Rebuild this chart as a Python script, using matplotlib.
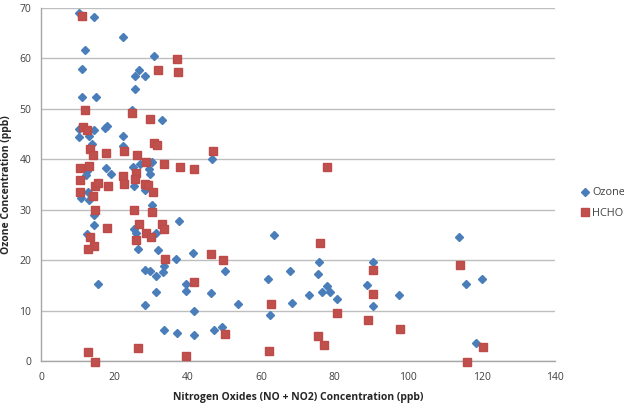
import matplotlib
matplotlib.use("Agg")
import matplotlib.pyplot as plt

ozone_x = [10.4, 14.4, 22.4, 12.0, 11.1, 30.8, 26.6, 25.7, 28.3, 25.7,
           11.3, 15.1, 24.7, 32.9, 10.3, 14.3, 10.4, 13.2, 17.5, 17.9,
           22.4, 22.2, 13.8, 12.4, 12.3, 17.6, 19.0, 25.1, 26.9, 30.1,
           29.3, 29.7, 25.3, 28.3, 46.7, 11.0, 12.9, 13.1, 30.3, 14.4,
           14.4, 37.7, 12.5, 25.2, 25.9, 31.4, 26.3, 31.9, 36.8, 41.4,
           33.6, 33.3, 28.2, 29.6, 31.4, 15.5, 39.4, 39.4, 31.4, 28.3,
           41.6, 33.4, 37.1, 41.6, 63.5, 75.8, 50.0, 67.7, 75.4, 61.9,
           77.8, 46.3, 76.6, 78.8, 72.9, 80.5, 88.9, 90.4, 53.6, 68.4,
           90.4, 97.5, 62.5, 47.0, 49.4, 113.8, 120.0, 115.7, 118.6]
ozone_y = [69.0, 68.2, 64.2, 61.7, 57.9, 60.5, 57.8, 56.6, 56.6, 54.0,
           52.3, 52.4, 49.7, 47.7, 46.0, 45.9, 44.5, 44.6, 46.2, 46.6,
           44.6, 42.6, 43.1, 37.6, 36.9, 38.3, 37.1, 38.4, 39.0, 39.5,
           38.1, 37.1, 34.7, 33.9, 40.1, 32.4, 33.5, 32.0, 31.0, 28.9,
           26.9, 27.8, 25.1, 26.2, 25.3, 25.4, 22.3, 22.1, 20.3, 21.4,
           18.9, 17.6, 18.0, 17.9, 16.8, 15.2, 15.3, 13.8, 13.7, 11.2,
           10.0, 6.2, 5.5, 5.2, 24.9, 19.6, 17.9, 17.9, 17.3, 16.3,
           14.8, 13.5, 13.7, 13.7, 13.0, 12.2, 15.0, 19.6, 11.4, 11.6,
           11.0, 13.0, 9.1, 6.2, 6.7, 24.5, 16.3, 15.3, 3.6]

hcho_x = [11.2, 37.0, 32.0, 37.2, 12.1, 24.9, 29.7, 11.4, 12.5, 13.4,
          14.1, 17.7, 22.6, 26.2, 30.9, 31.6, 33.5, 37.8, 41.7, 10.7,
          13.2, 28.5, 10.6, 14.6, 15.5, 18.3, 22.4, 22.6, 26.0, 25.5,
          28.3, 29.2, 30.4, 10.6, 14.2, 46.9, 78.0, 14.6, 25.2, 30.2,
          26.6, 33.0, 33.5, 17.9, 28.6, 30.0, 13.4, 25.9, 14.4, 12.8,
          33.7, 41.7, 46.4, 49.6, 76.0, 90.5, 90.5, 62.7, 80.7, 89.1,
          97.8, 50.1, 75.5, 77.0, 62.1, 114.0, 120.3, 115.9, 12.7, 14.6,
          26.5, 39.5]
hcho_y = [68.5, 59.9, 57.8, 57.3, 49.7, 49.1, 48.0, 46.4, 45.8, 42.0,
          40.9, 41.2, 41.7, 40.9, 43.2, 42.8, 39.0, 38.4, 38.1, 38.3,
          38.7, 39.4, 35.9, 34.8, 35.3, 34.8, 36.6, 35.1, 37.3, 36.0,
          35.1, 35.0, 33.5, 33.6, 32.7, 41.7, 38.4, 30.0, 29.9, 29.5,
          27.1, 27.2, 26.2, 26.4, 25.4, 24.5, 24.5, 24.0, 22.9, 22.2,
          20.3, 15.7, 21.2, 20.0, 23.4, 18.0, 13.2, 11.3, 9.6, 8.1,
          6.3, 5.4, 5.0, 3.1, 1.9, 19.0, 2.8, -0.1, 1.7, -0.1,
          2.6, 0.9]

x_ticks = [0, 20, 40, 60, 80, 100, 120, 140]
y_ticks = [0, 10, 20, 30, 40, 50, 60, 70]

plt.rcParams['font.family'] = ['Open Sans', 'DejaVu Sans']

W, H = 624, 404
fig = plt.figure(figsize=(W / 100, H / 100), dpi=100)
left, right, top, bottom = 41, 555, 8, 361
ax = fig.add_axes([left / W, 1 - bottom / H, (right - left) / W, (bottom - top) / H])

ax.set_xlim(0, 140)
ax.set_ylim(0, 70)
ax.set_xticks(x_ticks)
ax.set_yticks(y_ticks)
ax.tick_params(length=0, labelsize=7.5, colors='#404040')
ax.tick_params(axis='x', pad=8)
ax.tick_params(axis='y', pad=7)
ax.yaxis.grid(True, color='#BEBEBE', linewidth=1)
ax.set_axisbelow(True)
for s in ['top', 'right']:
    ax.spines[s].set_visible(False)
for s in ['left', 'bottom']:
    ax.spines[s].set_color('#A6A6A6')
    ax.spines[s].set_linewidth(1)

ax.plot(ozone_x, ozone_y, linestyle='none', marker='D', markersize=4.5,
        color='#4A7EBB', markeredgecolor='#4A7EBB', label='Ozone', clip_on=False, zorder=3)
ax.plot(hcho_x, hcho_y, linestyle='none', marker='s', markersize=5.4,
        color='#C0504D', markeredgecolor='#BE4B48', label='HCHO', clip_on=False, zorder=3)

ax.set_xlabel('Nitrogen Oxides (NO + NO2) Concentration (ppb)', fontsize=7.5,
              fontweight='bold', color='#262626')
ax.xaxis.set_label_coords((298 - left) / (right - left), (bottom - 392) / (bottom - top))
ax.set_ylabel('Ozone Concentration (ppb)', fontsize=7.5, fontweight='bold',
              color='#262626')
ax.yaxis.set_label_coords((12 - left) / (right - left), 0.5)

leg = ax.legend(loc='center left', bbox_to_anchor=((578 - left) / (right - left), (bottom - 203) / (bottom - top)),
                frameon=False, fontsize=7.8, handletextpad=0.1, handlelength=1.2,
                labelspacing=0.85, borderaxespad=0, borderpad=0)
for t in leg.get_texts():
    t.set_color('#404040')

fig.savefig('out.png', dpi=100)
